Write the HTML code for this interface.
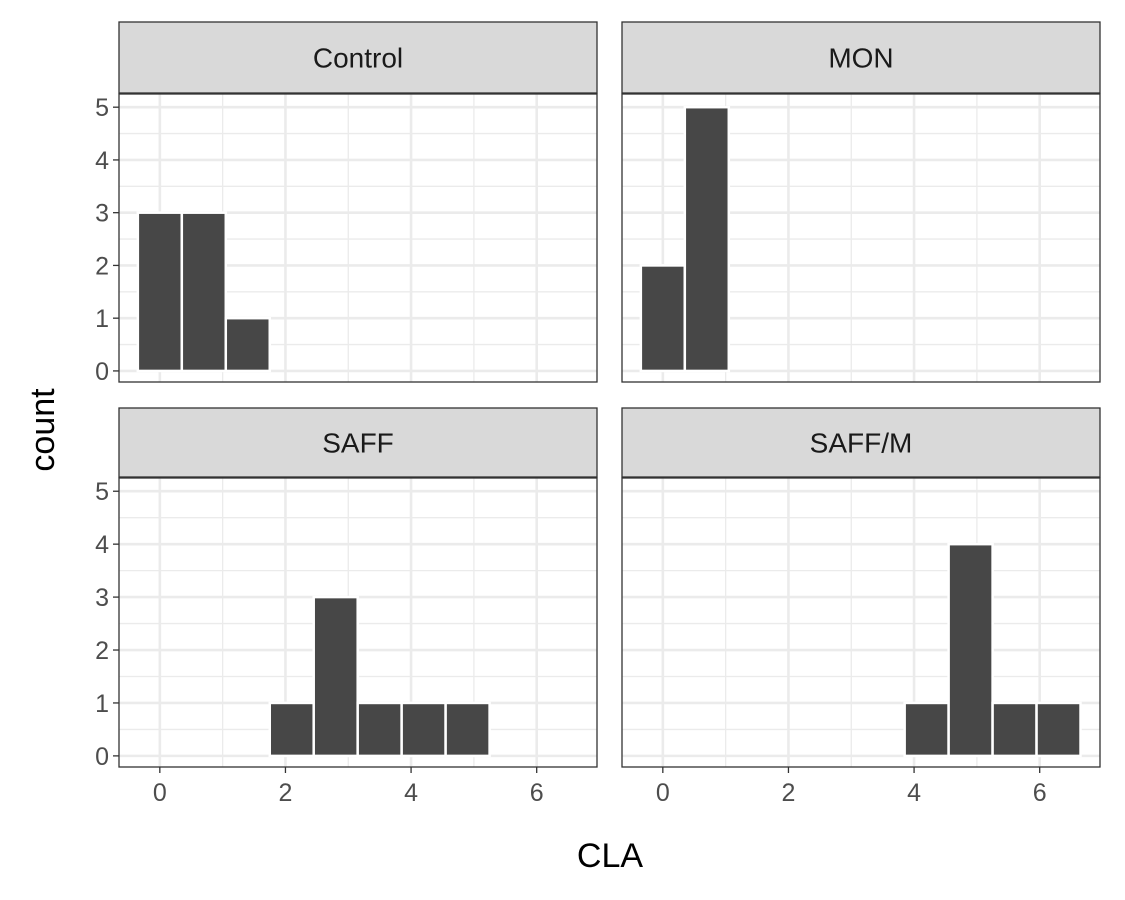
<!DOCTYPE html>
<html><head><meta charset="utf-8"><style>body{margin:0;background:#fff}svg{display:block;font-family:"Liberation Sans",sans-serif}</style></head>
<body>
<svg id="c" width="1125" height="900"></svg>
<script>
const panelNames=["Control","MON","SAFF","SAFF/M"];
const binCenters=[0,0.7,1.4,2.1,2.8,3.5,4.2,4.9,5.6,6.3];
const countsControl=[3,3,1,0,0,0,0,0,0,0];
const countsMON=[2,5,0,0,0,0,0,0,0,0];
const countsSAFF=[0,0,0,1,3,1,1,1,0,0];
const countsSAFFM=[0,0,0,0,0,0,1,4,1,1];
const allCounts=[countsControl,countsMON,countsSAFF,countsSAFFM];
const xTicks=[0,2,4,6];
const yTicks=[0,1,2,3,4,5];
const binWidth=0.7;
const NS="http://www.w3.org/2000/svg";
const svg=document.getElementById("c");
function mk(t,a,p){const e=document.createElementNS(NS,t);for(const k in a)e.setAttribute(k,a[k]);(p||svg).appendChild(e);return e;}
const cols=[{x0:119,x1:597},{x0:622,x1:1100}];
const rows=[{s0:22,s1:93,y0:94,y1:382},{s0:408,s1:477,y0:478,y1:767}];
const xmin=-0.65,xmax=6.96,ymin=-0.21,ymax=5.25;
panelNames.forEach((name,i)=>{
  const c=cols[i%2],r=rows[Math.floor(i/2)];
  const X=v=>c.x0+(v-xmin)/(xmax-xmin)*(c.x1-c.x0);
  const Y=v=>r.y1-(v-ymin)/(ymax-ymin)*(r.y1-r.y0);
  const g=mk("g",{});
  
  
  const strip=mk("rect",{x:c.x0,y:r.s0,width:c.x1-c.x0,height:r.s1-r.s0,fill:"#d9d9d9",stroke:"#333","stroke-width":1.3},g);
  
  
  const st=mk("text",{x:(c.x0+c.x1)/2,y:(r.s0+r.s1)/2+10,"text-anchor":"middle","font-size":28,fill:"#1a1a1a"},g);
  st.textContent=name;
  
  
  mk("rect",{x:c.x0,y:r.y0,width:c.x1-c.x0,height:r.y1-r.y0,fill:"#fff"},g);
  for(let v=1;v<=5;v+=2)mk("line",{x1:X(v),x2:X(v),y1:r.y0,y2:r.y1,stroke:"#ebebeb","stroke-width":1.3},g);
  for(let v=0.5;v<=5;v+=1)mk("line",{x1:c.x0,x2:c.x1,y1:Y(v),y2:Y(v),stroke:"#ebebeb","stroke-width":1.3},g);
  xTicks.forEach(v=>mk("line",{x1:X(v),x2:X(v),y1:r.y0,y2:r.y1,stroke:"#ebebeb","stroke-width":2.6},g));
  yTicks.forEach(v=>mk("line",{x1:c.x0,x2:c.x1,y1:Y(v),y2:Y(v),stroke:"#ebebeb","stroke-width":2.6},g));
  allCounts[i].forEach((n,j)=>{
    const b=mk("rect",{x:X(binCenters[j]-binWidth/2),y:Y(n),width:X(binWidth)-X(0),height:Y(0)-Y(n),fill:"#474747",stroke:"#fff","stroke-width":2.5},g);
    
    
  });
  mk("rect",{x:c.x0,y:r.y0,width:c.x1-c.x0,height:r.y1-r.y0,fill:"none",stroke:"#333","stroke-width":1.3},g);
  if(i%2==0){yTicks.forEach(v=>{
    mk("line",{x1:c.x0-6,x2:c.x0,y1:Y(v),y2:Y(v),stroke:"#333","stroke-width":1.3},g);
    const t=mk("text",{x:c.x0-10,y:Y(v)+9,"text-anchor":"end","font-size":25,fill:"#4d4d4d"},g);t.textContent=v;
    
    
  });}
  if(i>=2){xTicks.forEach(v=>{
    mk("line",{x1:X(v),x2:X(v),y1:r.y1,y2:r.y1+6,stroke:"#333","stroke-width":1.3},g);
    const t=mk("text",{x:X(v),y:r.y1+34,"text-anchor":"middle","font-size":25,fill:"#4d4d4d"},g);t.textContent=v;
    
    
  });}
});
const xt=mk("text",{x:610,y:867,"text-anchor":"middle","font-size":34,fill:"#000"});xt.textContent="CLA";


const yt=mk("text",{x:0,y:0,"text-anchor":"middle","font-size":34,fill:"#000",transform:"translate(54,430) rotate(-90)"});yt.textContent="count";


</script>
</body></html>
